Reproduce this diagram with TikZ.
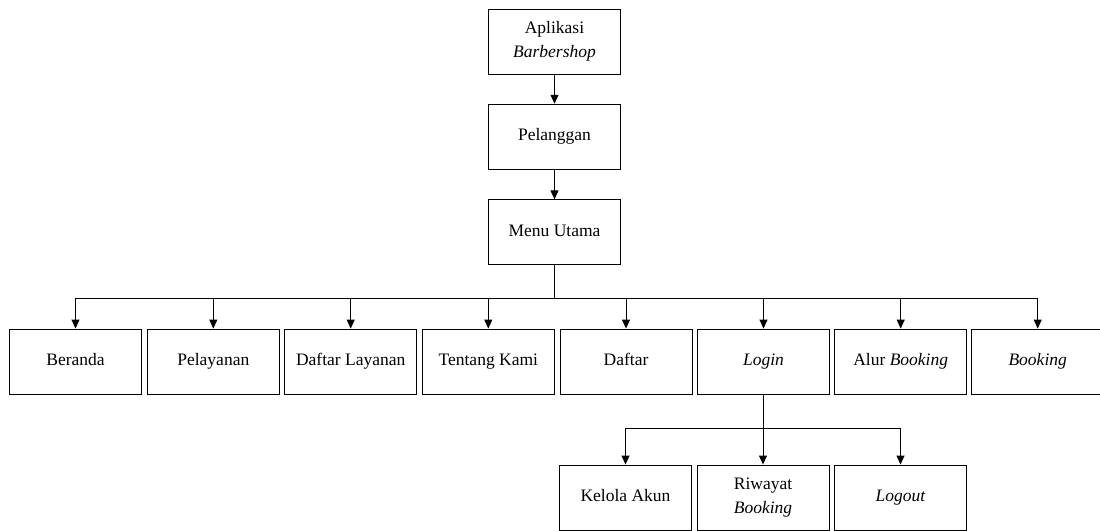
\documentclass[tikz,border=0pt]{standalone}
\usepackage{fontspec}
\setmainfont{Liberation Serif}
\usetikzlibrary{arrows.meta}
\begin{document}
\begin{tikzpicture}[x=1pt,y=-1pt,
  box/.style={draw,line width=0.9pt,minimum width=132pt,minimum height=65pt,inner sep=0pt,align=center,font=\fontsize{17.5}{24}\selectfont},
  one/.style={box,text height=12pt,text depth=4pt},
  arr/.style={line width=0.9pt,-{Triangle[length=9pt,width=8pt]}}]
\clip (0,0) rectangle (1100,530);
\fill[white] (0,0) rectangle (1100,530);
\node[box] (app) at (554.5,41.7) {Aplikasi\\\textit{Barbershop}};
\node[one] (pel) at (554.5,136.7) {Pelanggan};
\node[one] (menu) at (554.5,232.3) {Menu Utama};
\node[one] (ber) at (75.5,361.5) {Beranda};
\node[one] (pelay) at (213.3,361.5) {Pelayanan};
\node[one] (dl) at (350.7,361.5) {Daftar Layanan};
\node[one] (tk) at (488.3,361.5) {Tentang Kami};
\node[one] (daf) at (626,361.5) {Daftar};
\node[one] (login) at (763.5,361.5) {\textit{Login}};
\node[one] (alur) at (900.7,361.5) {Alur \textit{Booking}};
\node[one] (book) at (1037.7,361.5) {\textit{Booking}};
\node[one] (kel) at (625.5,497.5) {Kelola Akun};
\node[box] (riw) at (763,497.5) {Riwayat\\\textit{Booking}};
\node[one] (logout) at (900.5,497.5) {\textit{Logout}};
\draw[arr] (app) -- (pel);
\draw[arr] (pel) -- (menu);
\foreach \n in {ber,pelay,dl,tk,daf,login,alur,book}
  \draw[arr] (menu.south) -- ++(0,33) -| (\n.north);
\foreach \n in {kel,riw,logout}
  \draw[arr] (login.south) -- ++(0,33.5) -| (\n.north);
\end{tikzpicture}
\end{document}
